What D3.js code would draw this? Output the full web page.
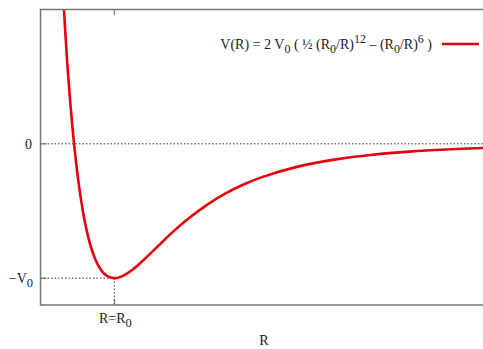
<!DOCTYPE html>
<html><head><meta charset="utf-8">
<script src="https://cdn.jsdelivr.net/npm/d3@7"></script>
<style>html,body{margin:0;padding:0;background:#fff;}svg{display:block;}
text{font-family:"Liberation Serif","Times New Roman","DejaVu Serif",serif;}</style>
</head><body>
<script>
// Data: R in units of R0, V in units of V0
const rValues = [0.86, 0.87, 0.875, 0.88, 0.885, 0.89, 0.90, 0.91, 0.92, 0.93, 0.94, 0.95, 0.96, 0.97, 0.98, 0.99, 1.00, 1.01, 1.02, 1.035, 1.05, 1.08, 1.12, 1.16, 1.20, 1.25, 1.30, 1.35, 1.40, 1.50, 1.60, 1.70, 1.80, 1.90, 2.00];
const vValues = [1.166, 0.706, 0.509, 0.330, 0.170, 0.025, -0.223, -0.421, -0.579, -0.702, -0.798, -0.870, -0.923, -0.960, -0.983, -0.996, -1.000, -0.997, -0.987, -0.965, -0.936, -0.863, -0.757, -0.652, -0.558, -0.456, -0.371, -0.303, -0.248, -0.168, -0.1157, -0.0811, -0.0579, -0.0421, -0.0310];
const xDomain = [0.8, 2.0];
const yDomain = [-1.2, 1.0];
const xTicks = [1.0];
const yTicks = [0, -1];

const W = 483, H = 349;
const L = 40.5, T = 9.5, R = 483.5, B = 305;
const svg = d3.select("body").append("svg").attr("width", W).attr("height", H);
const x = d3.scaleLinear().domain(xDomain).range([L, R]);
const y = d3.scaleLinear().domain(yDomain).range([B, T]);
const dash = "1.5,2";

// dotted zero line
svg.append("line").attr("x1", L).attr("x2", R).attr("y1", y(0)).attr("y2", y(0))
  .attr("stroke", "#333").attr("stroke-width", 1).attr("stroke-dasharray", dash);
// dotted -V0 guide and R0 guide
svg.append("line").attr("x1", L).attr("x2", x(1)).attr("y1", y(-1)).attr("y2", y(-1))
  .attr("stroke", "#333").attr("stroke-width", 1).attr("stroke-dasharray", dash);
svg.append("line").attr("x1", x(1)).attr("x2", x(1)).attr("y1", y(-1)).attr("y2", B)
  .attr("stroke", "#333").attr("stroke-width", 1).attr("stroke-dasharray", dash);

// ticks
xTicks.forEach(t => {
  svg.append("line").attr("x1", x(t)).attr("x2", x(t)).attr("y1", B).attr("y2", B - 6).attr("stroke", "#666").attr("stroke-width", 1);
  svg.append("line").attr("x1", x(t)).attr("x2", x(t)).attr("y1", T).attr("y2", T + 6).attr("stroke", "#666").attr("stroke-width", 1);
});
yTicks.forEach(t => {
  svg.append("line").attr("x1", L).attr("x2", L + 6).attr("y1", y(t)).attr("y2", y(t)).attr("stroke", "#666").attr("stroke-width", 1);
});

// curve
svg.append("clipPath").attr("id", "clip").append("rect").attr("x", L).attr("y", T).attr("width", R - L).attr("height", B - T);
const pts = rValues.map((r, i) => [r, vValues[i]]);
const line = d3.line().x(d => x(d[0])).y(d => y(d[1])).curve(d3.curveCatmullRom.alpha(0.5));
svg.append("path").attr("d", line(pts)).attr("fill", "none").attr("stroke", "#e8000b")
  .attr("stroke-width", 2.6).attr("clip-path", "url(#clip)");

// frame
svg.append("path").attr("d", `M${R},${T}H${L}V${B}H${R}`).attr("fill", "none").attr("stroke", "#777").attr("stroke-width", 1.5);

// text helper with sub/superscripts
function rich(g, parts, attrs, small) {
  const t = g.append("text");
  Object.entries(attrs).forEach(([k, v]) => t.attr(k, v));
  let shift = 0;
  parts.forEach(p => {
    const target = p[1] === "sub" ? 4 : p[1] === "sup" ? -6 : 0;
    const ts = t.append("tspan").text(p[0]).attr("dy", target - shift);
    if (p[1]) ts.attr("font-size", small);
    shift = target;
  });
  return t;
}
rich(svg, [["0"]], {x: 32, y: 149, "text-anchor": "end", "font-size": 14, fill: "#222"}, 12);
rich(svg, [["\u2212V"], ["0", "sub"]], {x: 33, y: 283, "text-anchor": "end", "font-size": 14, fill: "#222"}, 12.5);
rich(svg, [["R=R"], ["0", "sub"]], {x: x(1) + 1, y: 323, "text-anchor": "middle", "font-size": 14, fill: "#222"}, 12.5);
svg.append("text").attr("x", 264).attr("y", 345).attr("text-anchor", "middle")
  .attr("font-size", 14).attr("fill", "#222").text("R");

// legend
rich(svg, [["V(R) = 2 V"], ["0", "sub"], [" ( \u00bd (R"], ["0", "sub"], ["/R)"], ["12", "sup"], [" \u2013 (R"], ["0", "sub"], ["/R)"], ["6", "sup"], [" )"]],
  {x: 432, y: 49, "text-anchor": "end", "font-size": 14, fill: "#222"}, 12);
svg.append("line").attr("x1", 442).attr("x2", 479).attr("y1", 44).attr("y2", 44).attr("stroke", "#e8000b").attr("stroke-width", 2.6);
</script>
</body></html>
